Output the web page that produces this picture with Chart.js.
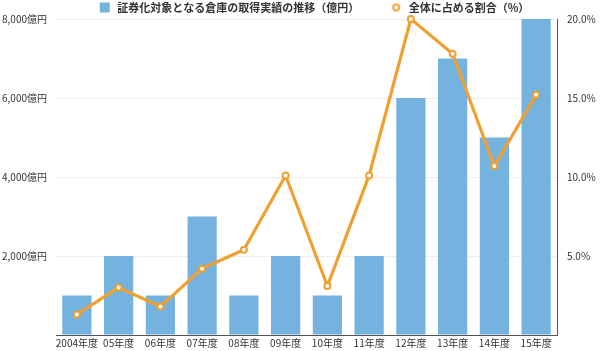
<!DOCTYPE html>
<html>
<head>
<meta charset="utf-8">
<script src="https://cdn.jsdelivr.net/npm/chart.js@4"></script>
<style>
  body { margin: 0; background: #fff; }
  #wrap { width: 600px; height: 351px; }
</style>
</head>
<body>
<div id="wrap"><canvas id="warehouse"></canvas></div>
<script>
const years = ["2004年度", "05年度", "06年度", "07年度", "08年度", "09年度",
               "10年度", "11年度", "12年度", "13年度", "14年度", "15年度"];
const amounts = [1000, 2000, 1000, 3000, 1000, 2000, 1000, 2000, 6000, 7000, 5000, 8000];
const shares = [1.3, 3.0, 1.8, 4.2, 5.4, 10.1, 3.1, 10.1, 20.0, 17.8, 10.7, 15.2];
const amountTicks = [2000, 4000, 6000, 8000];
const shareTicks = [5, 10, 15, 20];

const blue = "#74b2e0";
const orange = "#f0a030";
const markerBox = 42;

// legend markers, drawn at the right end of a wide box so the items sit apart
function marker(kind) {
  const c = document.createElement("canvas");
  c.width = markerBox;
  c.height = 12;
  const g = c.getContext("2d");
  const cx = markerBox - 7;
  if (kind === "rect") {
    g.fillStyle = blue;
    g.fillRect(cx - 5, 1, 10, 10);
  } else {
    g.beginPath();
    g.arc(cx, 6, 3, 0, Math.PI * 2);
    g.fillStyle = "#fff";
    g.fill();
    g.lineWidth = 2;
    g.strokeStyle = orange;
    g.stroke();
  }
  return c;
}
const legendMarkers = [marker("rect"), marker("circle")];

Chart.defaults.font.family = "'Noto Sans CJK JP', sans-serif";
Chart.defaults.font.size = 10;
Chart.defaults.color = "#333";

const ctx = document.getElementById("warehouse");

new Chart(ctx, {
  type: "bar",
  data: {
    labels: years,
    datasets: [
      {
        type: "bar",
        label: "証券化対象となる倉庫の取得実績の推移（億円）",
        data: amounts,
        backgroundColor: blue,
        categoryPercentage: 0.7,
        barPercentage: 1,
        yAxisID: "yAmount",
        order: 2,
      },
      {
        type: "line",
        label: "全体に占める割合（%）",
        data: shares,
        borderColor: orange,
        borderWidth: 3.2,
        backgroundColor: "#fff",
        pointStyle: "circle",
        pointRadius: 3,
        pointBorderWidth: 2,
        pointBackgroundColor: "#fff",
        pointBorderColor: orange,
        tension: 0,
        clip: false,
        yAxisID: "yShare",
        order: 1,
      },
    ],
  },
  options: {
    responsive: true,
    maintainAspectRatio: false,
    animation: false,
    layout: {
      padding: { top: 0, left: 2, right: 3, bottom: 0 },
    },
    plugins: {
      tooltip: { enabled: false },
      legend: {
        position: "top",
        maxHeight: 19,
        labels: {
          usePointStyle: true,
          pointStyleWidth: markerBox,
          padding: 2,
          color: "#333",
          font: { size: 11, weight: "bold" },
          sort: (a, b) => a.datasetIndex - b.datasetIndex,
          generateLabels: (chart) =>
            Chart.defaults.plugins.legend.labels.generateLabels(chart).map((item) => {
              item.pointStyle = legendMarkers[item.datasetIndex];
              return item;
            }),
        },
      },
    },
    scales: {
      x: {
        grid: { display: false, drawTicks: false },
        border: { color: "#555" },
        ticks: { padding: 2, autoSkip: false, maxRotation: 0 },
        afterFit: (s) => { s.height = 13.5; },
      },
      yAmount: {
        position: "left",
        min: 0,
        max: 8000,
        afterBuildTicks: (s) => {
          s.ticks = [0].concat(amountTicks).map((v) => ({ value: v }));
        },
        grid: { color: "#eeeeee", drawTicks: false },
        border: { display: false },
        ticks: {
          padding: 9,
          callback: (v) => (v === 0 ? "" : v.toLocaleString("en-US") + "億円"),
        },
        afterFit: (s) => { s.width = 54; },
      },
      yShare: {
        position: "right",
        min: 0,
        max: 20,
        afterBuildTicks: (s) => {
          s.ticks = [0].concat(shareTicks).map((v) => ({ value: v }));
        },
        grid: { display: false, drawTicks: false },
        border: { color: "#555" },
        ticks: {
          padding: 10,
          callback: (v) => (v === 0 ? "" : v.toFixed(1) + "%"),
        },
        afterFit: (s) => { s.width = 40; },
      },
    },
  },
});
</script>
</body>
</html>
